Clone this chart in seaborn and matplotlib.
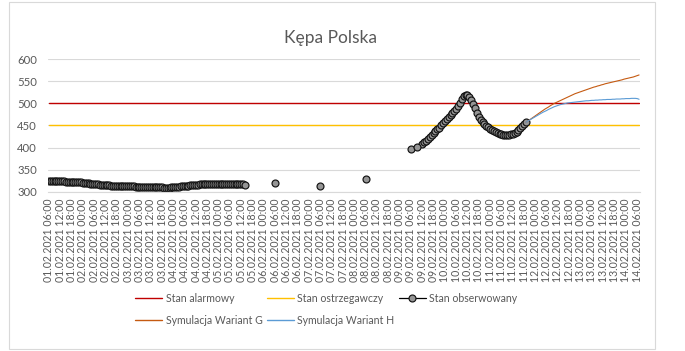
import pandas as pd
import matplotlib
matplotlib.use('Agg')
import matplotlib.pyplot as plt
from matplotlib.lines import Line2D
from matplotlib.patches import Rectangle
import seaborn as sns

# hourly category axis
axis_start = '2021-02-01 06:00'
axis_end = '2021-02-14 07:00'

alarm_level = 500      # Stan alarmowy
warning_level = 450    # Stan ostrzegawczy

# observed water level (hourly runs + a few single readings)
obs_run1_start = '2021-02-01 06:00'
obs_run1 = [325, 325, 324.5, 324.5, 324, 324, 324, 323.5, 323.5, 323,
            323, 323, 322.5, 322.5, 322, 321.5, 321, 321, 320.5, 320,
            319.5, 319, 318.5, 318, 317.5, 317, 316.5, 316, 315.5, 315,
            315, 314.5, 314.5, 314, 314, 313.5, 313.5, 313, 313, 313,
            312.5, 312.5, 312.5, 312, 312, 312, 311.5, 311.5, 311.5, 311,
            311, 311, 311, 310.5, 310.5, 310.5, 310.5, 310, 310, 310,
            310, 309.5, 309.5, 309.5, 309.5, 310, 310, 310.5, 311, 311.5,
            312, 312.5, 313, 313.5, 314, 314.5, 315, 315.5, 316, 316,
            316.5, 316.5, 317, 317, 317, 317, 317, 317, 317, 317,
            317, 317, 317, 317, 317, 317, 317, 317, 317, 317,
            317, 317, 316.5, 316.5, 316]
obs_single_times = ['2021-02-06 06:00', '2021-02-07 06:00', '2021-02-08 06:00',
                    '2021-02-09 06:00', '2021-02-09 09:00']
obs_single = [320, 314, 329, 397, 402]
obs_run2_start = '2021-02-09 12:00'
obs_run2 = [407.5, 412, 416, 420, 424.5, 428.6, 433, 437.6, 441.5, 445,
            450, 455, 459.5, 464, 468.7, 473, 478, 483, 488.5, 495,
            502, 509, 516, 520, 520, 514, 508, 499, 489, 478,
            470, 463, 457, 453, 449.5, 446, 442.5, 439.5, 437, 435,
            433, 431.5, 430, 429, 428.5, 428.5, 429, 430, 431.5, 433.5,
            436, 439.5, 443.5, 449, 453, 457]

# simulations
sim_start = '2021-02-11 19:00'
sim_g = [457, 460, 463, 466, 469, 472, 475, 478, 481, 484,
         487, 489.5, 492, 495, 497.5, 500, 502, 504, 506, 508,
         510, 512, 514, 516, 518, 520, 522, 523.5, 525, 526.5,
         528, 529.5, 531, 532.5, 534, 535.5, 537, 538, 539.5, 540.5,
         542, 543, 544.5, 545.5, 546.5, 547.5, 548.5, 549.5, 550.5, 551.5,
         552.5, 553.5, 555, 556, 557, 558, 559, 560, 561.5, 563,
         564.5]
sim_h = [457, 460, 462.5, 465, 467.5, 470, 472.5, 475, 477.5, 480,
         482, 484, 486.5, 488.5, 490.5, 492.5, 494, 495.5, 497, 498,
         499, 500, 501, 501.5, 502, 502.5, 503, 503.5, 504, 504.5,
         505, 505.5, 506, 506, 506.5, 507, 507, 507.5, 507.5, 508,
         508, 508.5, 508.5, 509, 509, 509, 509.5, 509.5, 510, 510,
         510, 510.5, 510.5, 511, 511, 511, 511.5, 511.5, 511.5, 511,
         509.5]

# --- build frames on the category positions ---
hours = pd.date_range(axis_start, axis_end, freq='h')
pos = pd.Series(range(len(hours)), index=hours)

levels = pd.DataFrame({'pos': pos.values,
                       'alarm': alarm_level,
                       'warning': warning_level})

run1 = pd.DataFrame({'t': pd.date_range(obs_run1_start, periods=len(obs_run1), freq='h'),
                     'value': obs_run1, 'run': 'r1'})
run2 = pd.DataFrame({'t': pd.date_range(obs_run2_start, periods=len(obs_run2), freq='h'),
                     'value': obs_run2, 'run': 'r2'})
singles = pd.DataFrame({'t': pd.to_datetime(obs_single_times), 'value': obs_single})
singles['run'] = ['s%d' % i for i in range(len(singles))]
obs = pd.concat([run1, singles, run2], ignore_index=True)
obs['pos'] = pos.loc[obs['t']].values

sims = pd.DataFrame({'t': pd.date_range(sim_start, periods=len(sim_g), freq='h'),
                     'G': sim_g, 'H': sim_h})
sims['pos'] = pos.loc[sims['t']].values

# --- style ---
c_alarm = '#C00000'
c_warn = '#FFC000'
c_g = '#C55A11'
c_h = '#5B9BD5'
txt = '#595959'
grid = '#D9D9D9'
mk = dict(marker='o', markersize=5.0, markerfacecolor='#959595',
          markeredgecolor='#141414', markeredgewidth=0.85)

sns.set_style('white')
plt.rcParams['font.family'] = ['Lato', 'DejaVu Sans']

W, H = 685, 351
fig = plt.figure(figsize=(W / 100, H / 100), dpi=100)
ax = fig.add_axes([48 / W, 1 - 191.7 / H, 592 / W, 132.4 / H])

sns.lineplot(data=levels, x='pos', y='alarm', color=c_alarm, lw=1.0, ax=ax, legend=False)
sns.lineplot(data=levels, x='pos', y='warning', color=c_warn, lw=1.0, ax=ax, legend=False)
sns.lineplot(data=obs, x='pos', y='value', units='run', estimator=None,
             color='black', lw=0.9, ax=ax, legend=False, **mk)
sns.lineplot(data=sims, x='pos', y='G', color=c_g, lw=0.8, ax=ax, legend=False)
sns.lineplot(data=sims, x='pos', y='H', color=c_h, lw=0.8, ax=ax, legend=False)

ax.set_xlim(-0.5, len(hours) - 0.5)
ax.set_ylim(300, 600)
ax.set_yticks(range(300, 601, 50))
ax.yaxis.grid(True, color=grid, lw=0.8)
ax.set_axisbelow(True)
for s in ['top', 'right', 'left']:
    ax.spines[s].set_visible(False)
ax.spines['bottom'].set_color(grid)
ax.spines['bottom'].set_linewidth(0.8)
ax.set_xlabel('')
ax.set_ylabel('')

major = list(range(0, len(hours), 6))
ax.set_xticks(major)
ax.set_xticklabels([hours[i].strftime('%d.%m.%Y %H:%M') for i in major],
                   rotation=90, fontsize=7.6, color=txt)
ax.set_xticks(range(len(hours)), minor=True)
ax.tick_params(axis='x', which='both', length=3, width=0.5, color=grid, pad=2)
ax.tick_params(axis='y', length=0, pad=8, labelsize=8.2, labelcolor=txt)

fig.text(331 / W, 1 - 38 / H, 'Kępa Polska', ha='center', va='center',
         fontsize=12.5, color=txt)

handles = [
    Line2D([], [], color=c_alarm, lw=1.0),
    Line2D([], [], color=c_g, lw=1.0),
    Line2D([], [], color=c_warn, lw=1.0),
    Line2D([], [], color=c_h, lw=1.0),
    Line2D([], [], color='black', lw=0.9, **mk),
]
labels = ['Stan alarmowy', 'Symulacja Wariant G', 'Stan ostrzegawczy',
          'Symulacja Wariant H', 'Stan obserwowany']
fig.legend(handles, labels, ncol=3, loc='upper left',
           bbox_to_anchor=(135 / W, 1 - 293 / H), frameon=False,
           fontsize=7.6, labelcolor=txt, handlelength=2.6, handletextpad=0.3,
           columnspacing=0.4, labelspacing=1.05, borderpad=0, borderaxespad=0)

fig.patches.append(Rectangle((9 / W, 2 / H), 646 / W, 347 / H, transform=fig.transFigure,
                             fill=False, edgecolor=grid, lw=0.8))

fig.savefig('out.png', dpi=100)
